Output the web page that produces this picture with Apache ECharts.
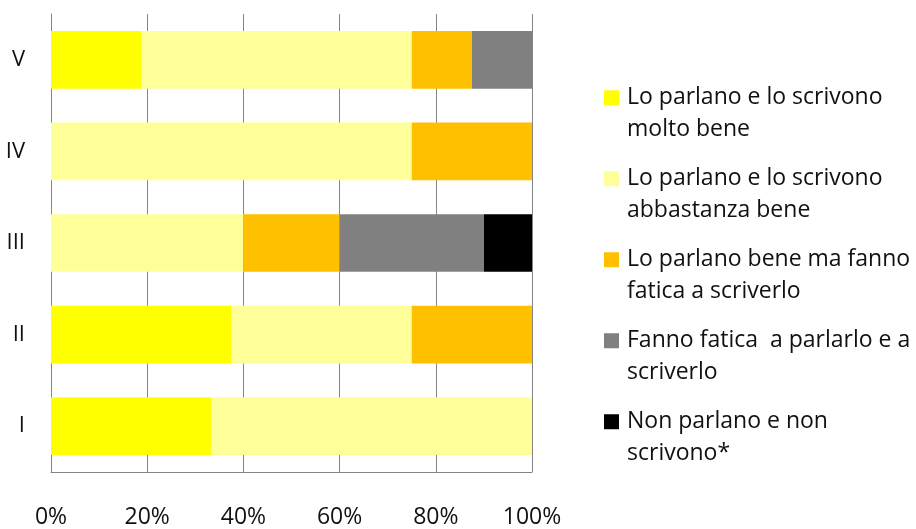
<!DOCTYPE html>
<html>
<head>
<meta charset="utf-8">
<script src="https://cdn.jsdelivr.net/npm/echarts@6/dist/echarts.min.js"></script>
<style>html,body{margin:0;padding:0;background:#fff}#c{width:916px;height:529px}</style>
</head>
<body>
<div id="c"></div>
<script>
const categories = ['I', 'II', 'III', 'IV', 'V'];
const seriesNames = [
  'Lo parlano e lo scrivono\nmolto bene',
  'Lo parlano e lo scrivono\nabbastanza bene',
  'Lo parlano bene ma fanno\nfatica a scriverlo',
  'Fanno fatica  a parlarlo e a\nscriverlo',
  'Non parlano e non\nscrivono*'
];
const molto = [33.3, 37.5, 0, 0, 18.75];
const abbastanza = [66.7, 37.5, 40, 75, 56.25];
const fatica = [0, 25, 20, 25, 12.5];
const faticaEntrambi = [0, 0, 30, 0, 12.5];
const non = [0, 0, 10, 0, 0];
const colors = ['#FFFF00', '#FFFF99', '#FFC000', '#808080', '#000000'];
const values = [molto, abbastanza, fatica, faticaEntrambi, non];
const xTicks = [0, 20, 40, 60, 80, 100];

const chart = echarts.init(document.getElementById('c'));
const font = '"Open Sans", Lato, sans-serif';
chart.setOption({
  animation: false,
  textStyle: { fontFamily: font },
  grid: { left: 51, right: 384, top: 14, bottom: 56 },
  legend: {
    orient: 'vertical',
    left: 604,
    top: 50.5,
    padding: 0,
    itemWidth: 15,
    itemHeight: 15,
    itemGap: -13.5,
    icon: 'rect',
    selectedMode: false,
    data: seriesNames,
    formatter: function (n) { return '\n' + n; },
    textStyle: { fontFamily: font, fontSize: 23, color: '#111', lineHeight: 31.5, padding: [0, 0, 0, 3] }
  },
  xAxis: {
    type: 'value',
    min: xTicks[0],
    max: xTicks[xTicks.length - 1],
    interval: 20,
    axisLine: { show: true, lineStyle: { color: '#868686', width: 1 } },
    axisTick: { show: false },
    splitLine: { show: true, lineStyle: { color: '#868686', width: 1 } },
    axisLabel: { formatter: '{value}%', fontSize: 23, color: '#111', margin: 34, fontFamily: font }
  },
  yAxis: {
    type: 'category',
    data: categories,
    axisLine: { show: true, lineStyle: { color: '#868686', width: 1 } },
    axisTick: { show: false },
    axisLabel: { fontSize: 22, color: '#111', margin: 26, fontFamily: font }
  },
  series: seriesNames.map((n, i) => ({
    name: n,
    type: 'bar',
    stack: 'total',
    barCategoryGap: '37%',
    itemStyle: { color: colors[i] },
    data: values[i]
  }))
});
</script>
</body>
</html>
